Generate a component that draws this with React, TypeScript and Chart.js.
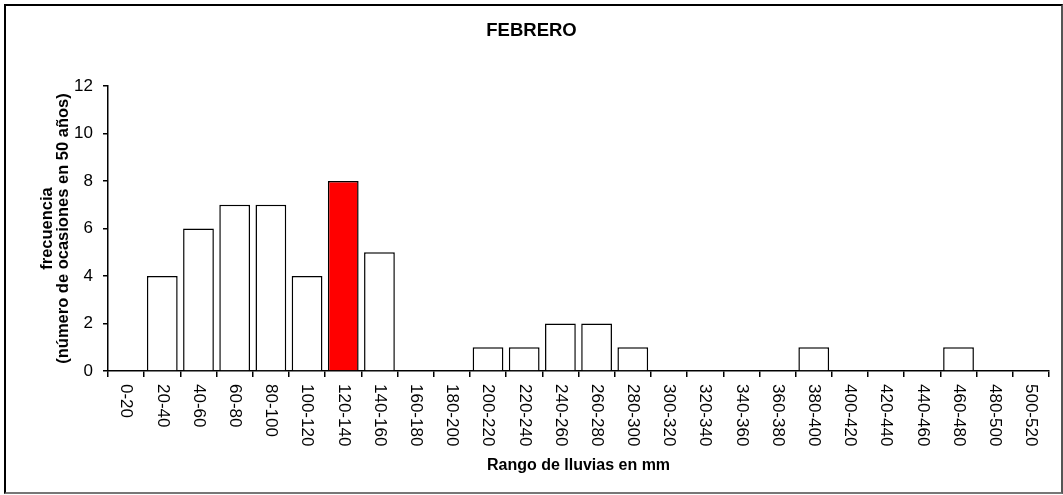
import React, { useEffect, useRef } from "react";
import { Chart, registerables } from "chart.js";

Chart.register(...registerables);

const categories = [
  "0-20", "20-40", "40-60", "60-80", "80-100", "100-120", "120-140", "140-160",
  "160-180", "180-200", "200-220", "220-240", "240-260", "260-280", "280-300",
  "300-320", "320-340", "340-360", "360-380", "380-400", "400-420", "420-440",
  "440-460", "460-480", "480-500", "500-520",
];
const frequencies = [
  0, 4, 6, 7, 7, 4, 8, 5, 0, 0, 1, 1, 2, 2, 1, 0, 0, 0, 0, 1, 0, 0, 0, 1, 0, 0,
];
const highlightCategory = "120-140";
const yMin = 0;
const yMax = 12;
const yStep = 2;
const chartTitle = "FEBRERO";
const xAxisTitle = "Rango de lluvias en mm";
const yAxisTitle = ["frecuencia", "(número de ocasiones en 50 años)"];

const FONT = "'Liberation Sans', Arial, sans-serif";

const rotatedLabels = {
  id: "rotatedLabels",
  afterDraw(chart: any) {
    const xs = chart.scales.x;
    const ctx = chart.ctx;
    ctx.save();
    ctx.font = `17px ${FONT}`;
    ctx.fillStyle = "#000";
    ctx.textAlign = "left";
    ctx.textBaseline = "middle";
    categories.forEach((c, i) => {
      const px = xs.getPixelForValue(i);
      ctx.save();
      ctx.translate(px, xs.top + 13);
      ctx.rotate(Math.PI / 2);
      ctx.fillText(c, 0, 0);
      ctx.restore();
    });
    ctx.restore();
  },
};

const centeredTitle = {
  id: "centeredTitle",
  afterDraw(chart: any) {
    const ctx = chart.ctx;
    ctx.save();
    ctx.font = `bold 18.5px ${FONT}`;
    ctx.fillStyle = "#000";
    ctx.textAlign = "center";
    ctx.textBaseline = "middle";
    ctx.fillText(chartTitle, chart.width / 2, 31);
    ctx.restore();
  },
};

export default function App() {
  const ref = useRef<HTMLCanvasElement | null>(null);

  useEffect(() => {
    if (!ref.current) return;
    const chart = new Chart(ref.current, {
      type: "bar",
      data: {
        labels: categories,
        datasets: [
          {
            data: frequencies,
            backgroundColor: categories.map((c) =>
              c === highlightCategory ? "#ff0000" : "#ffffff"
            ),
            borderColor: "#000",
            borderWidth: 1.5,
            borderSkipped: "bottom",
            barPercentage: 0.85,
            categoryPercentage: 1,
          },
        ],
      },
      options: {
        responsive: false,
        animation: false,
        events: [],
        layout: { padding: { left: 0, right: 14, top: 86, bottom: 0 } },
        plugins: {
          legend: { display: false },
          tooltip: { enabled: false },
          title: { display: false },
        },
        scales: {
          x: {
            type: "category",
            offset: true,
            afterFit: (s: any) => {
              s.height = 124;
            },
            grid: {
              offset: true,
              drawOnChartArea: false,
              drawTicks: true,
              tickLength: 6,
              color: "#000",
              lineWidth: 1.5,
            },
            border: { display: true, color: "#000", width: 1.5 },
            ticks: {
              color: "transparent",
              font: { family: FONT, size: 17 },
              minRotation: 90,
              maxRotation: 90,
              autoSkip: false,
            },
            title: {
              display: true,
              text: xAxisTitle,
              color: "#000",
              font: { family: FONT, size: 16, weight: "bold" },
              padding: { top: 0, bottom: 20 },
            },
          },
          y: {
            min: yMin,
            max: yMax,
            afterFit: (s: any) => {
              s.width = 108;
            },
            grid: {
              drawOnChartArea: false,
              drawTicks: true,
              tickLength: 5,
              color: "#000",
              lineWidth: 1.5,
            },
            border: { display: true, color: "#000", width: 1.5 },
            ticks: {
              stepSize: yStep,
              color: "#000",
              font: { family: FONT, size: 17 },
              padding: 10,
            },
            title: {
              display: true,
              text: yAxisTitle,
              color: "#000",
              font: { family: FONT, size: 16.5, weight: "bold", lineHeight: 1 },
              padding: { top: 39, bottom: 0 },
            },
          },
        },
      },
      plugins: [rotatedLabels, centeredTitle],
    } as any);
    return () => chart.destroy();
  }, []);

  return (
    <div
      style={{
        position: "fixed",
        left: 0,
        top: 0,
        width: 1063,
        height: 495,
        background: "#fff",
      }}
    >
      <canvas
        ref={ref}
        width={1063}
        height={495}
        style={{ position: "absolute", left: 0, top: 0, width: 1063, height: 495 }}
      />
      <div
        style={{
          position: "absolute",
          left: 4,
          top: 4,
          width: 1059,
          height: 490,
          boxSizing: "border-box",
          borderLeft: "2px solid #000",
          borderTop: "2px solid #000",
          borderRight: "2px solid #555",
          borderBottom: "2px solid #777",
          pointerEvents: "none",
        }}
      />
    </div>
  );
}
